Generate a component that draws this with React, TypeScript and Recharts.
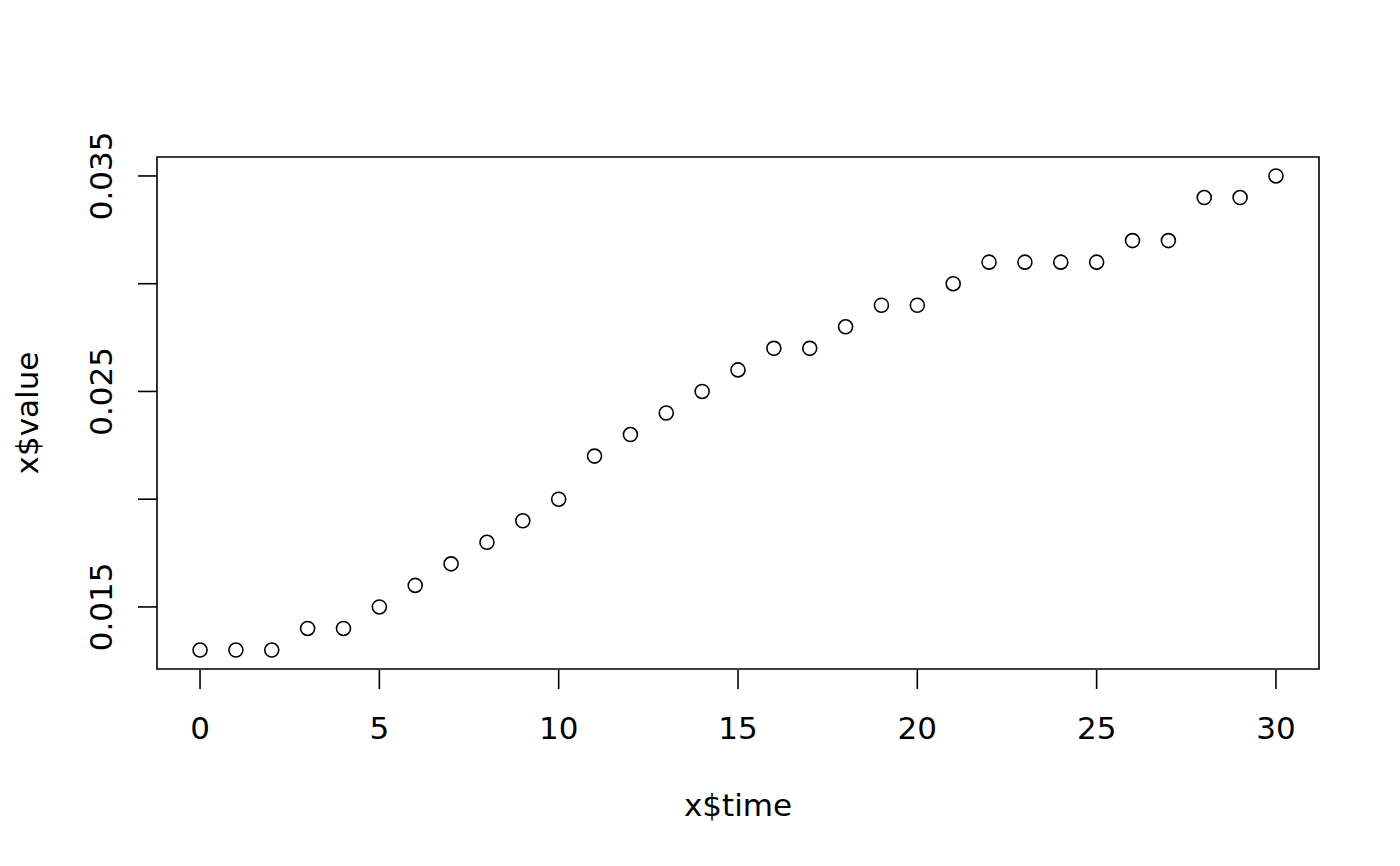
import React from "react";
import { ScatterChart, Scatter, XAxis, YAxis, ReferenceArea } from "recharts";

const times = [0, 1, 2, 3, 4, 5, 6, 7, 8, 9, 10, 11, 12, 13, 14, 15, 16, 17, 18, 19, 20, 21, 22, 23, 24, 25, 26, 27, 28, 29, 30];
const values = [
  0.013, 0.013, 0.013, 0.014, 0.014, 0.015, 0.016, 0.017, 0.018, 0.019, 0.02,
  0.022, 0.023, 0.024, 0.025, 0.026, 0.027, 0.027, 0.028, 0.029, 0.029, 0.03,
  0.031, 0.031, 0.031, 0.031, 0.032, 0.032, 0.034, 0.034, 0.035,
];
const xTicks = [0, 5, 10, 15, 20, 25, 30];
const yTicks = [0.015, 0.02, 0.025, 0.03, 0.035];
const yTickLabels: Record<string, string> = { "0.015": "0.015", "0.025": "0.025", "0.035": "0.035" };
const xTitle = "x$time";
const yTitle = "x$value";

const data = times.map((t, i) => ({ time: t, value: values[i] }));

const xMin = -1.2, xMax = 31.2;
const yMin = 0.01212, yMax = 0.03588;

const FONT = "'DejaVu Sans', sans-serif";
const FS = 31;
const PLOT_LEFT = 157;
const PLOT_BOTTOM = 670;
const TICK = 19;

const XTick = (props: any) => {
  const { x, payload } = props;
  return (
    <g>
      <line x1={x} y1={PLOT_BOTTOM} x2={x} y2={PLOT_BOTTOM + TICK} stroke="#000" strokeWidth={1.6} />
      <text x={x} y={739} textAnchor="middle" fontFamily={FONT} fontSize={FS} fill="#000">
        {String(payload.value)}
      </text>
    </g>
  );
};

const YTick = (props: any) => {
  const { y, payload } = props;
  const key = String(Number(payload.value.toFixed(3)));
  const label = yTickLabels[key];
  return (
    <g>
      <line x1={PLOT_LEFT - TICK} y1={y} x2={PLOT_LEFT} y2={y} stroke="#000" strokeWidth={1.6} />
      {label ? (
        <text x={112} y={y} transform={`rotate(-90, 112, ${y})`} textAnchor="middle" fontFamily={FONT} fontSize={FS} fill="#000">
          {label}
        </text>
      ) : null}
    </g>
  );
};

const XLabel = (props: any) => {
  const vb = props.viewBox || {};
  const cx = (vb.x ?? 157) + (vb.width ?? 1162) / 2;
  return (
    <text x={cx} y={816} textAnchor="middle" fontFamily={FONT} fontSize={FS} fill="#000">
      {xTitle}
    </text>
  );
};

const YLabel = (props: any) => {
  const vb = props.viewBox || {};
  const cy = (vb.y ?? 157) + (vb.height ?? 512) / 2;
  return (
    <text x={38} y={cy} transform={`rotate(-90, 38, ${cy})`} textAnchor="middle" fontFamily={FONT} fontSize={FS} fill="#000">
      {yTitle}
    </text>
  );
};

const Dot = (props: any) => {
  const { cx, cy } = props;
  return <circle cx={cx} cy={cy} r={7} fill="none" stroke="#000" strokeWidth={1.6} />;
};

export default function App() {
  return (
    <div style={{ position: "absolute", left: 0, top: 0, width: 1400, height: 866, background: "#fff" }}>
      <ScatterChart width={1400} height={866} margin={{ top: 157, right: 81, bottom: 0, left: 0 }}>
        <XAxis
          type="number"
          dataKey="time"
          domain={[xMin, xMax]}
          ticks={xTicks}
          allowDataOverflow
          height={197}
          axisLine={false}
          tickLine={false}
          tick={<XTick />}
          label={<XLabel />}
          interval={0}
        />
        <YAxis
          type="number"
          dataKey="value"
          domain={[yMin, yMax]}
          ticks={yTicks}
          allowDataOverflow
          width={157}
          axisLine={false}
          tickLine={false}
          tick={<YTick />}
          label={<YLabel />}
          interval={0}
        />
        <ReferenceArea x1={xMin} x2={xMax} y1={yMin} y2={yMax} fill="none" stroke="#000" strokeWidth={1.6} fillOpacity={0} strokeOpacity={1} />
        <Scatter data={data} shape={<Dot />} isAnimationActive={false} />
      </ScatterChart>
    </div>
  );
}
